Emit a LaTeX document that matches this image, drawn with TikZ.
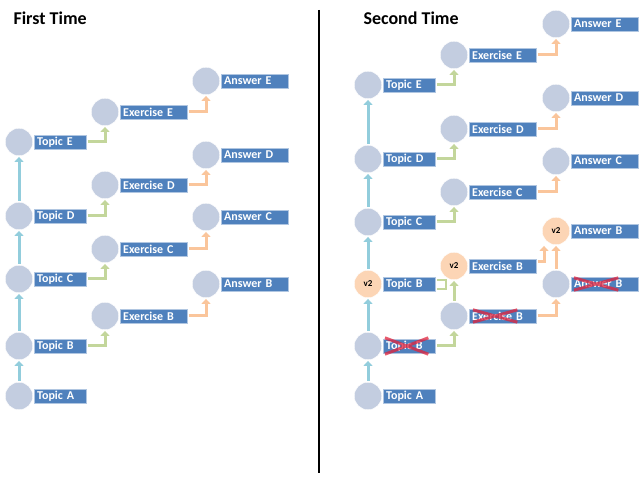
\documentclass[tikz,border=0pt]{standalone}
\usepackage{fontspec}
\setmainfont{Carlito}
\usepackage{tikz}
\usetikzlibrary{
  arrows.meta,
  positioning
}
\definecolor{dotgrey}  {RGB}{195, 205, 224}
\definecolor{newpeach} {RGB}{252, 213, 181}
\definecolor{lblblue}  {RGB}{ 79, 129, 189}
\definecolor{topicarr} {RGB}{146, 205, 220}
\definecolor{exarr}    {RGB}{195, 214, 155}
\definecolor{ansarr}   {RGB}{250, 197, 155}
\definecolor{dropred}  {RGB}{225,  35,  60}
\tikzset{
  dot/.style={
    circle, fill=#1, draw=white, thin,
    minimum size=27.5pt, inner sep=0pt,
    font=\fontsize{9}{10}\selectfont\bfseries
  },
  dot/.default=dotgrey,
  lbl/.style={
    fill=lblblue, draw=lblblue!45, thin, text=white,
    text width=#1, align=left, inner xsep=3pt, inner ysep=0pt,
    minimum height=14pt,
    font=\fontsize{12}{12}\selectfont\bfseries
  },
  flow/.style={
    draw=#1, line width=3pt,
    -{Triangle[width=9pt,length=5pt]},
    shorten >=1pt, shorten <=1.5pt
  },
  dropmark/.style={
    draw=dropred, line width=3pt, opacity=0.75
  },
  ttl/.style={
    anchor=west, font=\fontsize{18}{20}\selectfont\bfseries
  },
}

\begin{document}
\begin{tikzpicture}[x=1pt, y=-1pt]
\path[use as bounding box, fill=white] (0,0) rectangle (640,478);

% ── Titles and divider ────────────────────────────────────────────────────────
\node[ttl] (ttl1) at (10,18)  {First Time};
\node[ttl] (ttl2) at (360,18) {Second Time};
\draw[line width=2pt] (319,10) -- (319,473);

% ── First time: topics ────────────────────────────────────────────────────────
\node[dot] (topA1) at (19,396) {};
\node[lbl=46pt, right=1pt of topA1] (topA1txt) {Topic A};
\node[dot] (topB1) at (19,346) {};
\node[lbl=46pt, right=1pt of topB1] (topB1txt) {Topic B};
\node[dot] (topC1) at (19,279) {};
\node[lbl=46pt, right=1pt of topC1] (topC1txt) {Topic C};
\node[dot] (topD1) at (19,216) {};
\node[lbl=46pt, right=1pt of topD1] (topD1txt) {Topic D};
\node[dot] (topE1) at (19,142) {};
\node[lbl=46pt, right=1pt of topE1] (topE1txt) {Topic E};

% ── First time: exercises ─────────────────────────────────────────────────────
\node[dot] (exB1) at (105,316) {};
\node[lbl=61pt, right=1pt of exB1] (exB1txt) {Exercise B};
\node[dot] (exC1) at (105,249) {};
\node[lbl=61pt, right=1pt of exC1] (exC1txt) {Exercise C};
\node[dot] (exD1) at (105,185) {};
\node[lbl=61pt, right=1pt of exD1] (exD1txt) {Exercise D};
\node[dot] (exE1) at (105,112) {};
\node[lbl=61pt, right=1pt of exE1] (exE1txt) {Exercise E};

% ── First time: answers ───────────────────────────────────────────────────────
\node[dot] (ansB1) at (206,284) {};
\node[lbl=61pt, right=1pt of ansB1] (ansB1txt) {Answer B};
\node[dot] (ansC1) at (206,217) {};
\node[lbl=61pt, right=1pt of ansC1] (ansC1txt) {Answer C};
\node[dot] (ansD1) at (206,155) {};
\node[lbl=61pt, right=1pt of ansD1] (ansD1txt) {Answer D};
\node[dot] (ansE1) at (206,81) {};
\node[lbl=61pt, right=1pt of ansE1] (ansE1txt) {Answer E};

% ── First time: arrows ────────────────────────────────────────────────────────
\draw[flow=topicarr] (topA1) -- (topB1);
\draw[flow=topicarr] (topB1) -- (topC1);
\draw[flow=topicarr] (topC1) -- (topD1);
\draw[flow=topicarr] (topD1) -- (topE1);

\draw[flow=exarr] (topB1txt) -| (exB1);
\draw[flow=exarr] (topC1txt) -| (exC1);
\draw[flow=exarr] (topD1txt) -| (exD1);
\draw[flow=exarr] (topE1txt) -| (exE1);

\draw[flow=ansarr] (exB1txt) -| (ansB1);
\draw[flow=ansarr] (exC1txt) -| (ansC1);
\draw[flow=ansarr] (exD1txt) -| (ansD1);
\draw[flow=ansarr] (exE1txt) -| (ansE1);

% ── Second time: topics ───────────────────────────────────────────────────────
\node[dot] (topA2) at (368,396) {};
\node[lbl=46pt, right=1pt of topA2] (topA2txt) {Topic A};
\node[dot] (topB2) at (368,346) {};
\node[lbl=46pt, right=1pt of topB2] (topB2txt) {Topic B};
\node[dot=newpeach] (topB2new) at (368,284) {v2};
\node[lbl=46pt, right=1pt of topB2new] (topB2newtxt) {Topic B};
\node[dot] (topC2) at (368,222) {};
\node[lbl=46pt, right=1pt of topC2] (topC2txt) {Topic C};
\node[dot] (topD2) at (368,159) {};
\node[lbl=46pt, right=1pt of topD2] (topD2txt) {Topic D};
\node[dot] (topE2) at (368,85) {};
\node[lbl=46pt, right=1pt of topE2] (topE2txt) {Topic E};

% ── Second time: exercises ────────────────────────────────────────────────────
\node[dot] (exB2) at (454,316) {};
\node[lbl=61pt, right=1pt of exB2] (exB2txt) {Exercise B};
\node[dot=newpeach] (exB2new) at (454,266) {v2};
\node[lbl=61pt, right=1pt of exB2new] (exB2newtxt) {Exercise B};
\node[dot] (exC2) at (454,192) {};
\node[lbl=61pt, right=1pt of exC2] (exC2txt) {Exercise C};
\node[dot] (exD2) at (454,129) {};
\node[lbl=61pt, right=1pt of exD2] (exD2txt) {Exercise D};
\node[dot] (exE2) at (454,55) {};
\node[lbl=61pt, right=1pt of exE2] (exE2txt) {Exercise E};

% ── Second time: answers ──────────────────────────────────────────────────────
\node[dot] (ansB2) at (556,284) {};
\node[lbl=61pt, right=1pt of ansB2] (ansB2txt) {Answer B};
\node[dot=newpeach] (ansB2new) at (556,231) {v2};
\node[lbl=61pt, right=1pt of ansB2new] (ansB2newtxt) {Answer B};
\node[dot] (ansC2) at (556,161) {};
\node[lbl=61pt, right=1pt of ansC2] (ansC2txt) {Answer C};
\node[dot] (ansD2) at (556,98) {};
\node[lbl=61pt, right=1pt of ansD2] (ansD2txt) {Answer D};
\node[dot] (ansE2) at (556,24) {};
\node[lbl=61pt, right=1pt of ansE2] (ansE2txt) {Answer E};

% ── Second time: arrows ───────────────────────────────────────────────────────
\draw[flow=topicarr] (topA2)    -- (topB2);
\draw[flow=topicarr] (topB2)    -- (topB2new);
\draw[flow=topicarr] (topB2new) -- (topC2);
\draw[flow=topicarr] (topC2)    -- (topD2);
\draw[flow=topicarr] (topD2)    -- (topE2);

\draw[flow=exarr] (topB2txt) -| (exB2);
\draw[flow=exarr] (exB2)     -- (exB2new);
\draw[flow=exarr] (topC2txt) -| (exC2);
\draw[flow=exarr] (topD2txt) -| (exD2);
\draw[flow=exarr] (topE2txt) -| (exE2);
\draw[exarr, line width=2pt]
  ([xshift=1.5pt,yshift=-5pt]topB2newtxt.east) -- ++(9,0)
  |- ([xshift=2pt,yshift=4pt]topB2newtxt.east);

\draw[flow=ansarr] (exB2txt) -| (ansB2);
\draw[flow=ansarr] (ansB2)   -- (ansB2new);
\draw[flow=ansarr] ([yshift=4pt]exB2newtxt.east) -| ([xshift=-12pt]ansB2new.south);
\draw[flow=ansarr] (exC2txt) -| (ansC2);
\draw[flow=ansarr] (exD2txt) -| (ansD2);
\draw[flow=ansarr] (exE2txt) -| (ansE2);

% ── Dropped versions ──────────────────────────────────────────────────────────
\draw[dropmark]
  ([xshift=2pt,yshift=-1pt]topB2txt.south west) -- ([xshift=-7pt,yshift=1pt]topB2txt.north east)
  ([xshift=2pt,yshift=1pt]topB2txt.north west)  -- ([xshift=-7pt,yshift=-1pt]topB2txt.south east);
\draw[dropmark]
  ([xshift=4pt,yshift=1pt]exB2txt.south west) -- ([xshift=-19pt,yshift=-1pt]exB2txt.north east)
  ([xshift=4pt,yshift=-1pt]exB2txt.north west) -- ([xshift=-19pt,yshift=1pt]exB2txt.south east);
\draw[dropmark]
  ([xshift=3pt,yshift=1pt]ansB2txt.south west) -- ([xshift=-20pt,yshift=-1pt]ansB2txt.north east)
  ([xshift=3pt,yshift=-1pt]ansB2txt.north west) -- ([xshift=-20pt,yshift=1pt]ansB2txt.south east);

\end{tikzpicture}
\end{document}
